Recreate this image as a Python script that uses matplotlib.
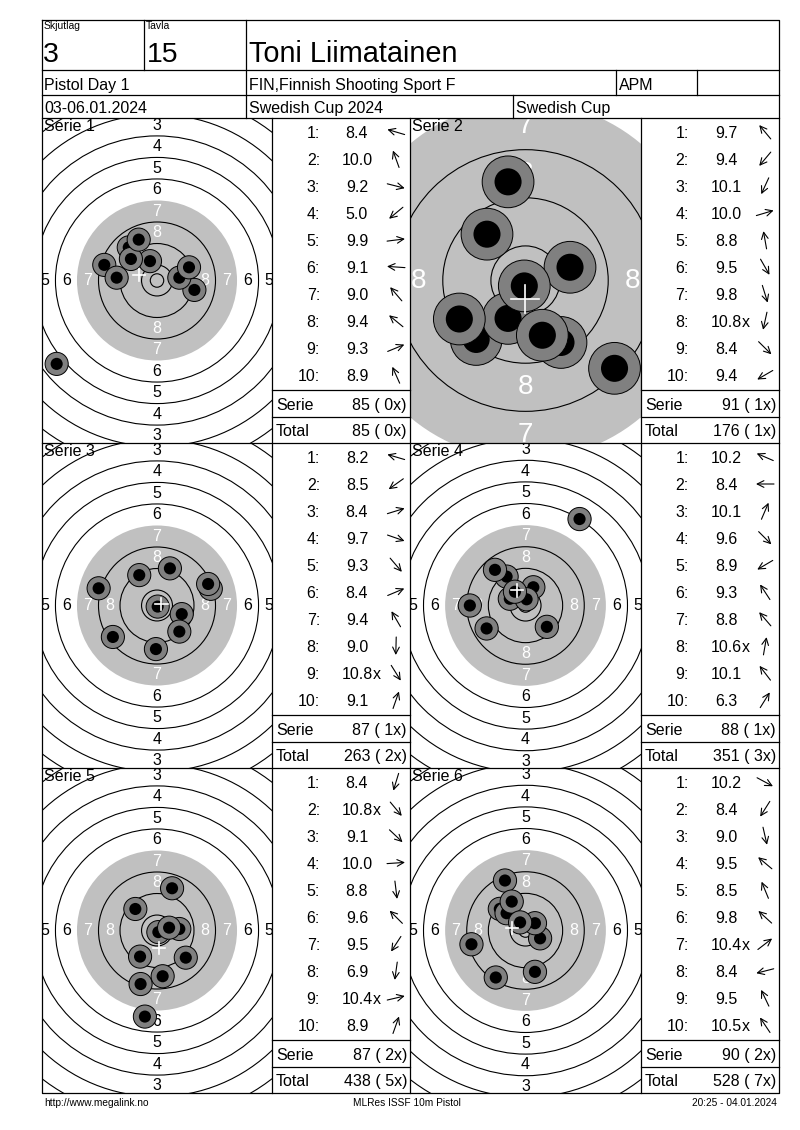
import math
import matplotlib
matplotlib.use("Agg")
import matplotlib.pyplot as plt
from matplotlib.patches import Circle

plt.rcParams['font.family'] = ['Liberation Sans', 'DejaVu Sans']

# ---------------- header / footer text ----------------
squad_label = "Skjutlag"
squad = "3"
target_label = "Tavla"
target_no = "15"
shooter = "Toni Liimatainen"
event = "Pistol Day 1"
club = "FIN,Finnish Shooting Sport F"
shooter_class = "APM"
dates = "03-06.01.2024"
competition = "Swedish Cup 2024"
cup = "Swedish Cup"
footer_left = "http://www.megalink.no"
footer_mid = "MLRes ISSF 10m Pistol"
footer_right = "20:25 - 04.01.2024"

# ---------------- series data (shot order) ----------------
series_names = ["Serie 1", "Serie 2", "Serie 3", "Serie 4", "Serie 5", "Serie 6"]

s1_scores = ["8.4", "10.0", "9.2", "5.0", "9.9", "9.1", "9.0", "9.4", "9.3", "8.9"]
s1_x = [-19.6, -2.6, 13.9, -37.3, 8.3, -15.0, -10.5, -9.7, 11.9, -6.8]
s1_y = [5.8, 7.2, -3.5, -31.0, 1.05, 1.05, 12.3, 8.0, 4.9, 15.2]

s2_scores = ["9.7", "9.4", "10.1", "10.0", "8.8", "9.5", "9.8", "10.8x", "8.4", "9.4"]
s2_x = [-6.4, -8.2, -2.9, 7.4, -2.9, 5.9, 2.8, -0.2, 14.8, -11.0]
s2_y = [7.7, -9.8, -6.3, 2.2, 16.4, -10.3, -9.1, -0.9, -14.6, -6.4]

s3_scores = ["8.2", "8.5", "8.4", "9.7", "9.3", "8.4", "9.4", "9.0", "10.8x", "9.1"]
s3_x = [-21.7, -16.4, 20.0, 9.2, 8.3, 19.0, -6.6, -0.4, 0.25, 4.8]
s3_y = [6.4, -11.7, 6.2, -3.2, -9.7, 8.0, 11.3, -16.2, -0.4, 13.8]

s4_scores = ["10.2", "8.4", "10.1", "9.6", "8.9", "9.3", "8.8", "10.6x", "10.1", "6.3"]
s4_x = [-5.8, -20.6, 2.9, 7.9, -14.4, -7.0, -11.3, 0.4, -3.9, 20.0]
s4_y = [2.5, 0.0, 6.75, -7.9, -8.5, 10.7, 13.2, 2.3, 5.1, 32.0]

s5_scores = ["8.4", "10.8x", "9.1", "10.0", "8.8", "9.6", "9.5", "6.9", "10.4x", "8.9"]
s5_x = [-6.1, 0.5, 10.7, 8.3, 2.1, -8.05, -6.3, -4.5, 4.5, 5.6]
s5_y = [-19.9, -0.6, -10.1, 0.56, -17.0, 8.0, -9.7, -32.0, 1.05, 15.7]

s6_scores = ["10.2", "8.4", "9.0", "9.5", "8.5", "9.8", "10.4x", "8.4", "9.5", "10.5x"]
s6_x = [5.4, -11.0, 3.5, -9.5, -7.6, -7.0, 3.5, -20.0, -5.1, -2.0]
s6_y = [-2.9, -17.4, -15.3, 8.0, 18.5, 6.4, 2.7, -5.1, 10.7, 3.0]

# half width of the visible target area in mm (serie 2 shown zoomed in)
view_half_width = [42.75, 19.2, 42.75, 42.75, 42.75, 42.75]

all_scores = [s1_scores, s2_scores, s3_scores, s4_scores, s5_scores, s6_scores]
all_x = [s1_x, s2_x, s3_x, s4_x, s5_x, s6_x]
all_y = [s1_y, s2_y, s3_y, s4_y, s5_y, s6_y]

# ---------------- target geometry (ISSF 10m air pistol, mm) ----------------
ring_numbers = [1, 2, 3, 4, 5, 6, 7, 8, 9, 10]
ring_radius = {n: 5.75 + (10 - n) * 8.0 for n in ring_numbers}
inner_ten = 2.5
halo_r = 4.3
pellet_r = 2.25

# ---------------- layout (pixels) ----------------
W, H = 800, 1130
Lx, Rx, Ty, By = 42, 779, 20, 1093
row_tops = [118, 443, 768]
panel_h = 325
col_target = [(42, 272), (410, 641)]
col_table = [(272, 410), (641, 779)]

fig = plt.figure(figsize=(W / 100, H / 100), dpi=100)
fig.patch.set_facecolor('white')

base = fig.add_axes([0, 0, 1, 1])
base.set_xlim(0, W)
base.set_ylim(H, 0)
base.axis('off')


def fig_rect(x0, y0, x1, y1):
    return [x0 / W, 1 - y1 / H, (x1 - x0) / W, (y1 - y0) / H]


# ---------------- header ----------------
base.text(44, 21, squad_label, fontsize=7.5, va='top', ha='left')
base.text(43, 62, squad, fontsize=20.5, va='baseline', ha='left')
base.text(146, 21, target_label, fontsize=7.5, va='top', ha='left')
base.text(147, 62, target_no, fontsize=20.5, va='baseline', ha='left')
base.text(249, 62, shooter, fontsize=20.8, va='baseline', ha='left')
base.text(44, 90, event, fontsize=11.5, va='baseline')
base.text(249, 90, club, fontsize=11.5, va='baseline')
base.text(619, 90, shooter_class, fontsize=11.5, va='baseline')
base.text(44, 113, dates, fontsize=11.5, va='baseline')
base.text(249, 113, competition, fontsize=11.5, va='baseline')
base.text(516, 113, cup, fontsize=11.5, va='baseline')

base.text(44, 1106, footer_left, fontsize=7.3, va='baseline', ha='left')
base.text(407, 1106, footer_mid, fontsize=7.3, va='baseline', ha='center')
base.text(777, 1106, footer_right, fontsize=7.3, va='baseline', ha='right')

# ---------------- tables ----------------
cum_total = 0
cum_x = 0
row_step = 27.0
for i in range(6):
    top = row_tops[i // 2]
    tx0, tx1 = col_table[i % 2]
    scores = all_scores[i]
    xs, ys = all_x[i], all_y[i]
    for k, s in enumerate(scores):
        cy = top + 14 + row_step * k
        base.text(tx0 + 48, cy + 6, f"{k + 1}:", fontsize=11.5, ha='right', va='baseline')
        num = s.rstrip('x')
        base.text(tx0 + 85, cy + 6, num, fontsize=11.5, ha='center', va='baseline')
        if s.endswith('x'):
            base.text(tx0 + 85 + 15.6, cy + 6, 'x', fontsize=11.5, ha='left', va='baseline')
        ang = math.atan2(ys[k], xs[k])
        acx = tx0 + 124
        half = 9.0
        tail = (acx - half * math.cos(ang), cy + half * math.sin(ang))
        head = (acx + half * math.cos(ang), cy - half * math.sin(ang))
        base.annotate('', xy=head, xytext=tail,
                      arrowprops=dict(arrowstyle='->', lw=0.8, color='black',
                                      mutation_scale=12, shrinkA=0, shrinkB=0))
    serie_sum = sum(int(float(s.rstrip('x'))) for s in scores)
    serie_x = sum(1 for s in scores if s.endswith('x'))
    cum_total += serie_sum
    cum_x += serie_x
    base.text(tx0 + 4, top + 286 + 6, "Serie", fontsize=11.5, va='baseline')
    base.text(tx1 - 3, top + 286 + 6, f"{serie_sum} ( {serie_x}x)", fontsize=11.5,
              va='baseline', ha='right')
    base.text(tx0 + 4, top + 312 + 6, "Total", fontsize=11.5, va='baseline')
    base.text(tx1 - 3, top + 312 + 6, f"{cum_total} ( {cum_x}x)", fontsize=11.5,
              va='baseline', ha='right')

# ---------------- targets ----------------
for i in range(6):
    top = row_tops[i // 2]
    x0, x1 = col_target[i % 2]
    ax = fig.add_axes(fig_rect(x0, top, x1, top + panel_h))
    hw = view_half_width[i]
    hh = hw * (panel_h / 2) / ((x1 - x0) / 2)
    ax.set_xlim(-hw, hw)
    ax.set_ylim(-hh, hh)
    ax.axis('off')
    zoomed = hw < 30

    ax.add_patch(Circle((0, 0), ring_radius[7], facecolor='#c0c0c0', edgecolor='none', zorder=1))
    for n in ring_numbers:
        if n == 7:
            continue
        ax.add_patch(Circle((0, 0), ring_radius[n], facecolor='none', edgecolor='black',
                            lw=0.8, zorder=2))
    ax.add_patch(Circle((0, 0), inner_ten, facecolor='none', edgecolor='black', lw=0.8, zorder=2))

    fs = 20 if zoomed else 11.5
    for n in range(1, 9):
        rm = ring_radius[n] - 4.0
        col = 'white' if n >= 7 else 'black'
        for (dx, dy) in [(0, 1), (0, -1), (1, 0), (-1, 0)]:
            px, py = dx * rm, dy * rm
            if abs(px) > hw or abs(py) > hh:
                continue
            ax.text(px, py, str(n), fontsize=fs, color=col, ha='center',
                    va='center', zorder=3, clip_on=True)

    xs, ys = all_x[i], all_y[i]
    for k in range(len(xs)):
        ax.add_patch(Circle((xs[k], ys[k]), halo_r, facecolor='#808080', edgecolor='black',
                            lw=0.7, zorder=4 + k * 0.01))
        ax.add_patch(Circle((xs[k], ys[k]), pellet_r, facecolor='black', edgecolor='none',
                            zorder=4 + k * 0.01 + 0.005))
    mx = sum(xs) / len(xs)
    my = sum(ys) / len(ys)
    cs = 2.3
    ax.plot([mx - cs, mx + cs], [my, my], color='white', lw=1.2, zorder=6)
    ax.plot([mx, mx], [my - cs, my + cs], color='white', lw=1.2, zorder=6)

    ax.text(0.008, 0.997, series_names[i], transform=ax.transAxes, fontsize=11.5,
            ha='left', va='top', zorder=7)

# ---------------- grid lines overlay ----------------
ov = fig.add_axes([0, 0, 1, 1], facecolor='none')
ov.set_xlim(0, W)
ov.set_ylim(H, 0)
ov.axis('off')
lw = 0.9
ov.plot([Lx, Rx, Rx, Lx, Lx], [Ty, Ty, By, By, Ty], color='black', lw=lw)
for yy in [70, 95, 118, 443, 768]:
    ov.plot([Lx, Rx], [yy, yy], color='black', lw=lw)
ov.plot([144, 144], [Ty, 70], color='black', lw=lw)
ov.plot([246, 246], [Ty, 118], color='black', lw=lw)
ov.plot([616, 616], [70, 95], color='black', lw=lw)
ov.plot([697, 697], [70, 95], color='black', lw=lw)
ov.plot([513, 513], [95, 118], color='black', lw=lw)
for xx in [272, 410, 641]:
    ov.plot([xx, xx], [118, By], color='black', lw=lw)
for top in row_tops:
    for (tx0, tx1) in col_table:
        ov.plot([tx0, tx1], [top + 272, top + 272], color='black', lw=lw)
        ov.plot([tx0, tx1], [top + 299, top + 299], color='black', lw=lw)

fig.savefig('out.png', dpi=100, facecolor='white')
